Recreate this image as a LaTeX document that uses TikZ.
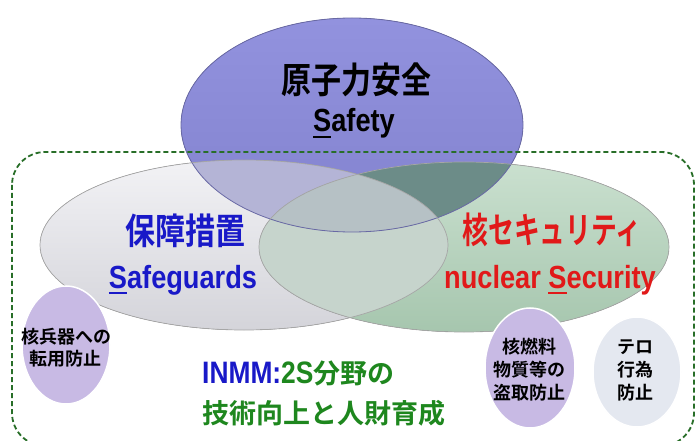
\documentclass[tikz,border=0pt]{standalone}
\usepackage{fontspec}
\usepackage{graphicx}
\setmainfont{Noto Sans CJK JP}[BoldFont={Noto Sans CJK JP Bold}]
\newfontfamily\lat{Liberation Sans}[FakeStretch=0.85]
\usetikzlibrary{shapes.geometric}
\definecolor{cPtop}{RGB}{146,146,222}
\definecolor{cPbot}{RGB}{130,130,206}
\definecolor{cPedge}{RGB}{105,105,165}
\definecolor{cTL}{RGB}{180,180,214}
\definecolor{cTR}{RGB}{108,140,136}
\definecolor{cTLR}{RGB}{182,193,197}
\definecolor{cLR}{RGB}{198,212,204}
\definecolor{cLtop}{RGB}{242,242,245}
\definecolor{cLbot}{RGB}{212,212,218}
\definecolor{cRtop}{RGB}{202,224,207}
\definecolor{cRbot}{RGB}{166,198,174}
\definecolor{cLav}{RGB}{200,186,228}
\definecolor{cPale}{RGB}{228,232,240}
\definecolor{cDash}{RGB}{40,110,40}
\definecolor{tBlue}{RGB}{25,25,200}
\definecolor{tRed}{RGB}{225,25,25}
\definecolor{tGreen}{RGB}{30,135,30}
\newcommand\uls[1]{\setbox0\hbox{#1}\rlap{\rule[-6pt]{\wd0}{2.2pt}}\box0}
\newcommand\tall[1]{\scalebox{1}[1.2]{#1}}
\begin{document}
\begin{tikzpicture}[x=1pt,y=-1pt,
  bigjp/.style={font=\fontsize{30}{32}\selectfont\bfseries, inner sep=0pt},
  biglat/.style={font=\lat\fontsize{32}{34}\selectfont\bfseries, inner sep=0pt, anchor=base},
  smalltxt/.style={font=\fontsize{18}{22}\selectfont\bfseries, align=center, inner sep=0pt},
  bubble/.style={ellipse, draw=white, line width=1.5pt, inner sep=0pt},
  midtxt/.style={font=\fontsize{27}{30}\selectfont\bfseries, inner sep=0pt, anchor=west}]
\useasboundingbox (0,0) rectangle (697,441);
\fill[white] (0,0) rectangle (697,441);
% three ellipses
\fill[top color=cPtop, bottom color=cPbot] (352,125) ellipse [x radius=171, y radius=107];
\fill[top color=cLtop, bottom color=cLbot] (244,245) ellipse [x radius=204, y radius=85];
\fill[top color=cRtop, bottom color=cRbot] (464,247) ellipse [x radius=205, y radius=85];
\begin{scope}
  \clip (244,245) ellipse [x radius=204, y radius=85];
  \fill[cLR] (464,247) ellipse [x radius=205, y radius=85];
\end{scope}
\begin{scope}
  \clip (352,125) ellipse [x radius=171, y radius=107];
  \fill[cTL] (244,245) ellipse [x radius=204, y radius=85];
  \fill[cTR] (464,247) ellipse [x radius=205, y radius=85];
  \clip (244,245) ellipse [x radius=204, y radius=85];
  \fill[cTLR] (464,247) ellipse [x radius=205, y radius=85];
\end{scope}
\draw[cPedge, line width=0.8pt] (352,125) ellipse [x radius=171, y radius=107];
\draw[black!35, line width=0.7pt] (244,245) ellipse [x radius=204, y radius=85];
\draw[black!35, line width=0.7pt] (464,247) ellipse [x radius=205, y radius=85];
% dashed frame
\draw[cDash, line width=1.8pt, dash pattern=on 5pt off 3pt, rounded corners=33pt] (12,152) rectangle (694,446);
% big labels
\node[bigjp] (safjp) at (356,80) {\tall{原子力安全}};
\node[biglat] (safen) at (354,132) {\uls{S}afety};
\node[bigjp, text=tBlue] (sgjp) at (185,231) {\tall{保障措置}};
\node[biglat, text=tBlue] (sgen) at (183,288) {\uls{S}afeguards};
\node[bigjp, text=tRed] (secjp) at (552,230) {\scalebox{0.86}[1.2]{核セキュリティ}};
\node[biglat, text=tRed] (secen) at (550,288) {nuclear \uls{S}ecurity};
% small bubbles
\node[bubble, fill=cLav, minimum width=88pt, minimum height=118pt] (b1) at (66,345) {};
\node[smalltxt] (b1t) at (66,348) {核兵器への\\転用防止};
\node[bubble, fill=cLav, minimum width=90pt, minimum height=120pt] (b2) at (530,368) {};
\node[smalltxt, font=\fontsize{18}{23}\selectfont\bfseries] (b2t) at (529,370) {核燃料\\物質等の\\盗取防止};
\node[bubble, fill=cPale, minimum width=88pt, minimum height=110pt] (b3) at (637,372) {};
\node[smalltxt, font=\fontsize{18}{23}\selectfont\bfseries] (b3t) at (635,370) {テロ\\行為\\防止};
% INMM text
\node[midtxt] (inmm1) at (202,373) {{\lat\fontsize{31}{30}\selectfont\color{tBlue}INMM:}{\color{tGreen}{\lat\fontsize{31}{30}\selectfont 2S}分野の}};
\node[midtxt, text=tGreen] (inmm2) at (202,413) {技術向上と人財育成};
\end{tikzpicture}
\end{document}
